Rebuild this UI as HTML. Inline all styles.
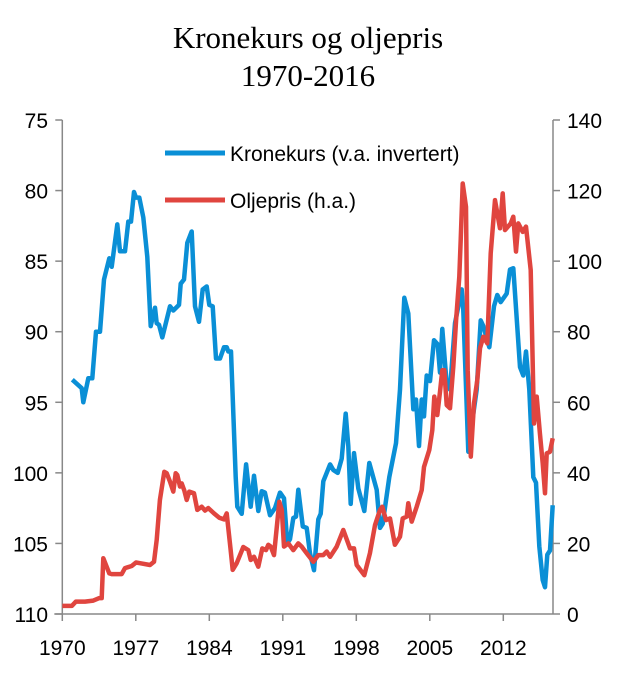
<!DOCTYPE html>
<html><head><meta charset="utf-8"><style>
body{margin:0;background:#fff}
svg{display:block}
text{font-family:"Liberation Sans",Arial,sans-serif}
</style></head><body>
<svg id="chart" width="620" height="673">
<text x="308" y="48" text-anchor="middle" style="font-family:'Liberation Serif',serif;font-size:31px">Kronekurs og oljepris</text>
<text x="308" y="86" text-anchor="middle" style="font-family:'Liberation Serif',serif;font-size:31px">1970-2016</text>
<g id="axes"></g>
<g id="series"></g>
<g>
<line x1="165" y1="153" x2="225" y2="153" stroke="#0a8fd6" stroke-width="5"/>
<text x="230" y="161" font-size="21">Kronekurs (v.a. invertert)</text>
<line x1="165" y1="200" x2="225" y2="200" stroke="#e0453f" stroke-width="5"/>
<text x="230" y="208" font-size="21">Oljepris (h.a.)</text>
</g>
</svg>
<script>
const xTicks=[1970,1977,1984,1991,1998,2005,2012];
const leftTicks=[75,80,85,90,95,100,105,110];
const rightTicks=[0,20,40,60,80,100,120,140];
const kroneYears=[1970.95,1971.85,1972.0,1972.48,1972.86,1973.21,1973.59,1973.97,1974.48,1974.7,1975.24,1975.5,1975.97,1976.29,1976.54,1976.83,1977.02,1977.33,1977.71,1978.1,1978.42,1978.83,1978.99,1979.21,1979.52,1980.26,1980.57,1981.11,1981.28,1981.59,1981.9,1982.32,1982.64,1983.02,1983.37,1983.75,1984.0,1984.32,1984.64,1985.02,1985.4,1985.66,1985.81,1986.07,1986.51,1986.67,1987.09,1987.5,1987.94,1988.26,1988.67,1988.99,1989.3,1989.78,1990.26,1990.73,1991.11,1991.43,1991.69,1992.0,1992.26,1992.48,1992.9,1993.28,1993.59,1993.97,1994.38,1994.61,1994.86,1995.5,1995.81,1996.23,1996.61,1996.99,1997.24,1997.47,1997.78,1998.19,1998.76,1999.24,1999.94,2000.26,2000.51,2001.14,2001.78,2002.16,2002.57,2002.95,2003.43,2003.69,2003.97,2004.23,2004.45,2004.7,2005.02,2005.4,2005.75,2005.97,2006.19,2006.61,2006.92,2007.4,2008.04,2008.19,2008.67,2008.92,2009.47,2009.85,2010.1,2010.67,2011.11,2011.43,2011.75,2012.32,2012.64,2012.95,2013.59,2013.9,2014.16,2014.48,2014.86,2015.11,2015.43,2015.75,2015.97,2016.19,2016.45,2016.7];
const kroneValues=[93.4,94.0,95.0,93.3,93.3,90.0,90.0,86.3,84.8,85.4,82.4,84.3,84.3,82.2,82.2,80.1,80.5,80.5,81.9,84.7,89.6,88.3,89.4,89.5,90.4,88.2,88.5,88.1,86.6,86.3,83.7,82.9,88.2,89.3,87.0,86.8,88.1,88.2,91.9,91.9,91.1,91.1,91.4,91.4,100.3,102.4,102.9,99.4,102.4,100.2,102.7,101.3,101.4,103,102.5,101.4,101.8,105,104.7,103.2,103.1,101.2,103.8,103.9,105.7,106.9,103.3,102.9,100.6,99.4,99.8,100,99,95.8,98.1,102.2,98.6,101.1,102.7,99.3,101.2,103.9,103.6,100.3,97.9,94.1,87.6,88.7,95.5,94.8,98.1,94.8,96,93.1,93.5,90.6,90.9,92.9,89.8,93.7,94.1,89.4,87,88.5,98.5,97,94.1,89.2,89.6,91.1,88.2,87.4,87.9,87.3,85.6,85.5,92.5,93.1,91.4,94.1,100.3,100.7,105.2,107.6,108.1,105.8,105.5,102.3];
const oilYears=[1970.0,1970.9,1971.3,1972.16,1972.95,1973.52,1973.75,1973.9,1974.48,1974.7,1975.66,1975.97,1976.61,1977.02,1977.4,1978.35,1978.73,1978.99,1979.3,1979.71,1979.94,1980.26,1980.57,1980.8,1980.95,1981.21,1981.37,1981.62,1981.85,1982.1,1982.54,1982.86,1983.28,1983.59,1983.9,1984.45,1984.95,1985.4,1985.66,1986.04,1986.23,1986.61,1987.24,1987.71,1987.94,1988.26,1988.67,1989.05,1989.4,1989.62,1989.85,1990.16,1990.67,1990.9,1991.11,1991.52,1992.0,1992.48,1992.8,1993.28,1993.9,1994.38,1994.86,1995.18,1995.5,1996.13,1996.76,1997.4,1997.78,1998.04,1998.76,1999.3,1999.78,2000.26,2000.48,2000.83,2001.21,2001.68,2002.16,2002.42,2002.8,2002.95,2003.28,2003.75,2004.23,2004.45,2004.95,2005.24,2005.43,2005.71,2005.97,2006.19,2006.38,2006.61,2006.92,2007.24,2007.5,2007.81,2007.94,2008.13,2008.45,2008.61,2008.9,2009.21,2009.52,2009.78,2010.1,2010.48,2010.8,2011.21,2011.43,2011.69,2011.94,2012.16,2012.7,2012.95,2013.21,2013.43,2013.85,2014.16,2014.61,2014.92,2015.18,2015.49,2015.75,2015.97,2016.13,2016.45,2016.7];
const oilValues=[2.3,2.3,3.5,3.5,3.8,4.5,4.5,15.8,11.5,11.3,11.3,13,13.6,14.6,14.4,13.9,14.8,21,32.3,40.3,39.9,37.5,34.7,39.9,39.4,36.1,37,35,32.3,34.7,34.2,29.5,30.4,29.3,30,28.5,27.3,26.8,28.5,18,12.5,14.4,19,18.1,15.3,16.2,13.4,18.6,18.1,19.6,19.1,16.7,31.8,29.5,19.1,20,18.1,20,19.1,17.2,14.8,16.7,16.7,17.7,16.2,19.1,23.8,18.6,18.6,13.9,11,17.2,25.2,29.5,30.4,26.6,27.1,19.6,21.9,27.1,27.6,31.4,26.2,30.4,35.1,41.7,46.5,52.1,61.6,56.4,63,69.1,69.1,59.2,58.3,70.1,83.3,95.6,106,122,115.4,69.1,44.6,59.7,66.3,75.3,78.6,76.7,102.2,117.3,113.6,109.3,119.2,108.8,110.7,112.6,102.7,110.7,108.3,109.8,97.5,54,61.6,51.2,42.7,34.2,45.5,46,49.8];

const L=62.3,R=553,T=120,B=614;
function xs(y){return L+(y-1970)*10.5;}
function yl(v){return T+(v-75)/35*(B-T);}
function yr(v){return B-v/140*(B-T);}
const NS='http://www.w3.org/2000/svg';
function mk(tag,attrs,parent){const e=document.createElementNS(NS,tag);for(const k in attrs)e.setAttribute(k,attrs[k]);parent.appendChild(e);return e;}
const ax=document.getElementById('axes');
const ser=document.getElementById('series');
const g='#888';
let e;
e=mk('line',{x1:L,y1:T,x2:L,y2:B,stroke:g,'stroke-width':1.5},ax);


e=mk('line',{x1:R,y1:T,x2:R,y2:B,stroke:g,'stroke-width':1.5},ax);


e=mk('line',{x1:L-8,y1:B,x2:R,y2:B,stroke:g,'stroke-width':1.5},ax);


leftTicks.forEach(v=>{
  const y=yl(v);
  const t=mk('line',{x1:L-7,y1:y,x2:L,y2:y,stroke:g,'stroke-width':1.5},ax);
  
  
  const tx=mk('text',{x:48,y:y+8,'text-anchor':'end','font-size':21},ax);
  tx.textContent=v;
  
  
});
rightTicks.forEach(v=>{
  const y=yr(v);
  const t=mk('line',{x1:R,y1:y,x2:R+7,y2:y,stroke:g,'stroke-width':1.5},ax);
  
  
  const tx=mk('text',{x:567,y:y+8,'font-size':21},ax);
  tx.textContent=v;
  
  
});
xTicks.forEach(v=>{
  const x=xs(v);
  const t=mk('line',{x1:x,y1:B,x2:x,y2:B+7,stroke:g,'stroke-width':1.5},ax);
  
  
  const tx=mk('text',{x:x,y:655,'text-anchor':'middle','font-size':21},ax);
  tx.textContent=v;
  
  
});
const kp=kroneYears.map((y,i)=>xs(y).toFixed(1)+','+yl(kroneValues[i]).toFixed(1)).join(' ');
const k=mk('polyline',{points:kp,fill:'none',stroke:'#0a8fd6','stroke-width':4.5,'stroke-linejoin':'round'},ser);


const op=oilYears.map((y,i)=>xs(y).toFixed(1)+','+yr(oilValues[i]).toFixed(1)).join(' ');
const o=mk('polyline',{points:op,fill:'none',stroke:'#e0453f','stroke-width':4.5,'stroke-linejoin':'round'},ser);


</script>
</body></html>
